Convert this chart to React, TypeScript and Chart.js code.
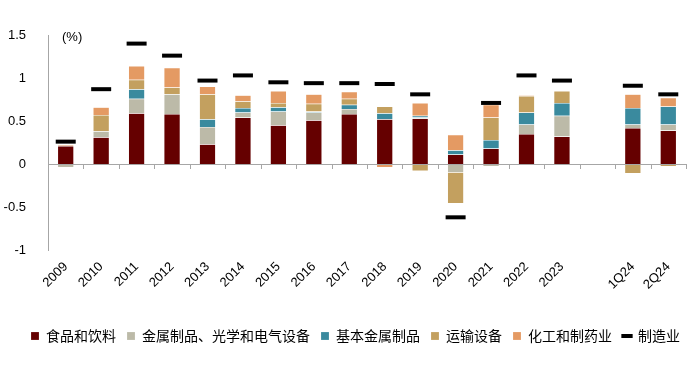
import React, { useEffect, useRef } from "react";
import { Chart, registerables } from "chart.js";
Chart.register(...registerables);

const categories = ["2009", "2010", "2011", "2012", "2013", "2014", "2015", "2016", "2017", "2018", "2019", "2020", "2021", "2022", "2023", "", "1Q24", "2Q24"];
const food = [0.21, 0.31, 0.59, 0.58, 0.23, 0.54, 0.45, 0.51, 0.58, 0.52, 0.53, 0.11, 0.18, 0.35, 0.32, null, 0.42, 0.39];
const metalsOptical = [-0.04, 0.07, 0.17, 0.23, 0.2, 0.06, 0.16, 0.09, 0.06, 0, 0.01, -0.1, -0.03, 0.11, 0.24, null, 0.04, 0.07];
const basicMetals = [0, 0, 0.11, 0, 0.09, 0.05, 0.05, 0.01, 0.05, 0.07, 0.02, 0.05, 0.1, 0.14, 0.15, null, 0.19, 0.21];
const transport = [0, 0.19, 0.11, 0.08, 0.29, 0.08, 0.05, 0.09, 0.07, 0.08, -0.08, -0.36, 0.26, 0.19, 0.14, null, -0.11, -0.03];
const chemicals = [0.01, 0.09, 0.16, 0.23, 0.09, 0.07, 0.14, 0.11, 0.08, -0.04, 0.15, 0.18, 0.15, 0.01, 0, null, 0.16, 0.1];
const manufacturing = [0.26, 0.87, 1.4, 1.26, 0.97, 1.03, 0.95, 0.94, 0.94, 0.93, 0.81, -0.62, 0.71, 1.03, 0.97, null, 0.91, 0.81];

const FONT = "'Liberation Sans', Arial, 'Noto Sans CJK SC', sans-serif";
const LEGEND_FONT = "'Noto Sans CJK SC', 'Liberation Sans', sans-serif";

const axisPlugin = {
  id: "zeroAxis",
  afterLayout(chart: any) {
    if (chart.legend) {
      chart.legend.left = 19;
      chart.legend.right = 692;
    }
  },
  afterDraw(chart: any) {
    const { ctx, chartArea, scales } = chart;
    const y0 = scales.y.getPixelForValue(0);
    const n = categories.length;
    const w = (chartArea.right - chartArea.left) / n;
    ctx.save();
    ctx.strokeStyle = "#a6a6a6";
    ctx.lineWidth = 1;
    ctx.beginPath();
    ctx.moveTo(chartArea.left, Math.round(y0) + 0.5);
    ctx.lineTo(chartArea.right, Math.round(y0) + 0.5);
    for (let i = 1; i <= n; i++) {
      const x = Math.round(chartArea.left + i * w) + 0.5;
      ctx.moveTo(x, Math.round(y0));
      ctx.lineTo(x, Math.round(y0) + 5);
    }
    ctx.stroke();
    ctx.fillStyle = "#000";
    ctx.font = "13px " + FONT;
    ctx.textBaseline = "middle";
    ctx.textAlign = "left";
    ctx.fillText("(%)", 62, scales.y.getPixelForValue(1.5) + 2);
    ctx.restore();
  },
};

export default function App() {
  const ref = useRef<HTMLCanvasElement>(null);
  useEffect(() => {
    const barDs = (label: string, data: any[], color: string) => ({
      type: "bar" as const,
      label,
      data,
      backgroundColor: color,
      borderColor: "rgba(255,255,255,0.35)",
      borderWidth: 0.5,
      stack: "s",
      barPercentage: 0.46,
      categoryPercentage: 1,
      pointStyle: "rect",
      order: 2,
    });
    const chart = new Chart(ref.current!, {
      type: "bar",
      data: {
        labels: categories,
        datasets: [
          barDs("食品和饮料", food, "#650000"),
          barDs("金属制品、光学和电气设备", metalsOptical, "#bcbaa8"),
          barDs("基本金属制品", basicMetals, "#3a8a9e"),
          barDs("运输设备", transport, "#c3a05f"),
          barDs("化工和制药业", chemicals, "#e49a63"),
          {
            type: "line" as const,
            label: "制造业",
            data: manufacturing,
            showLine: false,
            stack: "m",
            pointStyle: "line",
            pointRadius: 10,
            pointHoverRadius: 10,
            borderColor: "#000",
            backgroundColor: "#000",
            pointBorderColor: "#000",
            pointBorderWidth: 4,
            borderWidth: 3,
            order: 0,
          } as any,
        ],
      },
      options: {
        animation: false,
        responsive: false,
        maintainAspectRatio: false,
        layout: { padding: { left: 0, right: 8, top: 35, bottom: 12 } },
        plugins: {
          tooltip: { enabled: false },
          legend: {
            position: "bottom",
            labels: {
              usePointStyle: true,
              boxWidth: 8,
              boxHeight: 8,
              padding: 11,
              color: "#000",
              font: { size: 14, family: LEGEND_FONT },
              sort: (a: any, b: any) => a.datasetIndex - b.datasetIndex,
            },
          },
        },
        scales: {
          x: {
            stacked: true,
            offset: true,
            grid: { display: false },
            border: { display: false },
            ticks: {
              autoSkip: false,
              minRotation: 45,
              maxRotation: 45,
              padding: 1,
              color: "#000",
              font: { size: 13, family: FONT },
            },
            afterFit(scale: any) {
              scale.height = 68;
            },
          },
          y: {
            stacked: true,
            min: -1,
            max: 1.5,
            grid: { display: false },
            border: { display: true, color: "#a6a6a6" },
            ticks: {
              stepSize: 0.5,
              padding: 14,
              color: "#000",
              font: { size: 13, family: FONT },
              callback: (v: any) => String(Number(v)),
            },
            afterFit(scale: any) {
              scale.width = 48;
            },
          },
        },
      },
      plugins: [axisPlugin],
    });
    return () => chart.destroy();
  }, []);
  return (
    <div style={{ position: "absolute", left: 0, top: 0, width: 700, height: 365, background: "#fff" }}>
      <canvas ref={ref} width={700} height={365} style={{ width: 700, height: 365 }} />
    </div>
  );
}
